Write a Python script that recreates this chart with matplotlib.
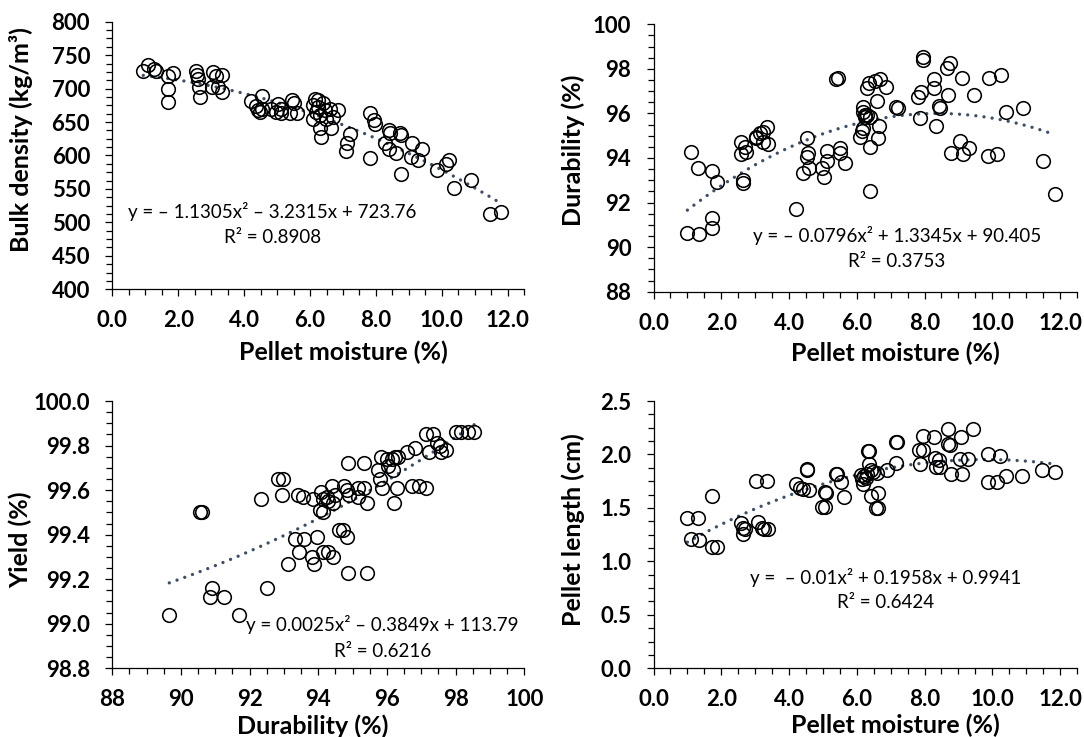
import numpy as np
import matplotlib
matplotlib.use("Agg")
import matplotlib.pyplot as plt
from matplotlib.ticker import MultipleLocator, AutoMinorLocator, FormatStrFormatter

# ---------------- data ----------------
# Panel A: bulk density vs pellet moisture
bd_moisture = [0.94, 1.07, 1.27, 1.34, 1.70, 1.85, 1.68, 1.68, 2.53, 2.56, 2.59, 2.63, 2.66,
               3.06, 3.16, 3.33, 3.03, 3.21, 3.33, 4.22, 4.35, 4.53, 4.42, 4.53, 4.47, 4.83,
               5.03, 4.98, 5.13, 5.13, 5.45, 5.51, 5.38, 5.60, 6.14, 6.24, 6.09, 6.24, 6.39,
               6.17, 6.29, 6.09, 6.44, 6.60, 6.85, 6.49, 6.65, 6.29, 6.34, 6.70, 7.20, 7.12,
               7.10, 7.81, 7.93, 7.96, 7.83, 8.42, 8.41, 8.26, 8.41, 8.62, 8.72, 8.75, 9.10,
               9.07, 9.27, 9.40, 8.75, 9.86, 10.13, 10.23, 10.38, 10.89, 11.47, 11.80]
bulk_density = [726, 736, 730, 726, 719, 724, 700, 680, 727, 720, 714, 702, 687,
                725, 719, 721, 702, 703, 695, 681, 674, 689, 668, 670, 665, 670,
                677, 665, 670, 663, 683, 678, 663, 664, 685, 683, 675, 673, 678,
                665, 660, 655, 668, 670, 668, 654, 641, 641, 628, 658, 632, 619,
                606, 663, 653, 647, 597, 633, 638, 618, 609, 603, 633, 631, 619,
                598, 593, 609, 572, 578, 587, 594, 551, 563, 512, 515]
bd_coef = [-1.1305, -3.2315, 723.76]

# Panel B: durability vs pellet moisture
dur_moisture = [1.00, 1.34, 1.72, 1.72, 1.11, 1.32, 1.72, 1.88, 2.57, 2.57, 2.70, 2.73, 2.63,
                2.65, 3.04, 3.14, 3.24, 3.36, 3.24, 3.39, 3.04, 4.22, 4.40, 4.52, 4.57, 4.52,
                4.60, 4.96, 5.03, 5.11, 5.11, 5.38, 5.45, 5.50, 5.50, 5.65, 6.09, 6.14, 6.17,
                6.19, 6.24, 6.31, 6.39, 6.24, 6.17, 6.31, 6.37, 6.54, 6.69, 6.85, 6.60, 6.66,
                6.63, 6.40, 6.40, 7.15, 7.22, 7.81, 7.91, 7.86, 7.96, 7.96, 8.27, 8.27, 8.43,
                8.47, 8.70, 8.67, 8.75, 8.33, 8.78, 9.04, 9.14, 9.32, 9.12, 9.45, 9.88, 10.15,
                9.90, 10.25, 10.39, 10.91, 11.50, 11.84]
durability = [90.62, 90.58, 91.29, 90.88, 94.29, 93.54, 93.43, 92.94, 94.73, 94.18, 94.51, 94.29, 93.01,
              92.86, 94.88, 95.11, 95.18, 95.38, 94.73, 94.63, 94.96, 91.70, 93.34, 94.88, 94.24, 94.06,
              93.54, 93.54, 93.13, 94.33, 93.88, 97.53, 97.58, 94.44, 94.24, 93.79, 94.93, 95.23, 96.31,
              96.08, 95.93, 95.93, 95.86, 95.86, 95.33, 97.13, 97.35, 97.47, 97.53, 97.17, 96.57, 95.44,
              94.91, 94.48, 92.54, 96.31, 96.23, 96.72, 96.98, 95.78, 98.55, 98.40, 97.53, 97.13, 96.34,
              96.23, 96.83, 98.03, 98.25, 95.44, 94.21, 94.78, 94.18, 94.44, 97.61, 96.83, 94.09, 94.18,
              97.61, 97.73, 96.05, 96.23, 93.87, 92.37]
dur_coef = [-0.0796, 1.3345, 90.405]

# Panel C: yield vs durability
yield_durability = [89.66, 90.55, 90.60, 90.89, 90.84, 91.26, 91.70, 92.33, 92.51, 92.83, 92.96, 92.93,
                    93.11, 93.32, 93.45, 93.42, 93.54, 93.58, 93.81, 93.87, 93.85, 93.97, 94.07, 94.15,
                    94.05, 94.13, 94.24, 94.29, 94.39, 94.49, 94.44, 94.15, 94.29, 94.44, 94.61, 94.73,
                    94.84, 94.76, 94.83, 94.90, 94.87, 95.15, 95.34, 95.17, 95.41, 94.87, 95.41, 95.34,
                    95.75, 95.80, 95.85, 95.83, 95.99, 96.04, 96.14, 96.23, 96.33, 96.17, 96.28, 96.20,
                    96.57, 96.82, 96.72, 96.94, 97.14, 97.14, 97.33, 97.21, 97.45, 97.54, 97.56, 97.71,
                    98.01, 98.17, 98.37, 98.54]
yield_pct = [99.04, 99.50, 99.50, 99.16, 99.12, 99.12, 99.04, 99.56, 99.16, 99.65, 99.65, 99.58,
             99.27, 99.38, 99.32, 99.58, 99.57, 99.38, 99.30, 99.27, 99.56, 99.39, 99.59, 99.56,
             99.51, 99.50, 99.57, 99.55, 99.62, 99.58, 99.54, 99.32, 99.32, 99.30, 99.42, 99.42,
             99.39, 99.62, 99.60, 99.58, 99.72, 99.61, 99.61, 99.57, 99.54, 99.23, 99.23, 99.72,
             99.69, 99.65, 99.61, 99.75, 99.74, 99.71, 99.74, 99.75, 99.75, 99.69, 99.61, 99.54,
             99.77, 99.79, 99.62, 99.62, 99.61, 99.85, 99.85, 99.77, 99.81, 99.80, 99.77, 99.78,
             99.86, 99.86, 99.86, 99.86]

# Panel D: pellet length vs pellet moisture
len_moisture = [1.00, 1.32, 1.11, 1.34, 1.72, 1.72, 1.86, 2.57, 2.65, 2.63, 2.70, 3.04, 3.34,
                3.09, 3.19, 3.26, 3.39, 4.20, 4.32, 4.40, 4.60, 4.52, 4.54, 4.96, 5.06, 5.06,
                5.09, 5.38, 5.42, 5.52, 5.62, 6.11, 6.14, 6.17, 6.21, 6.27, 6.31, 6.34, 6.37,
                6.37, 6.41, 6.49, 6.59, 6.41, 6.58, 6.63, 6.63, 6.88, 7.15, 7.19, 7.15, 7.84,
                7.94, 7.86, 7.96, 8.28, 8.30, 8.33, 8.47, 8.43, 8.70, 8.70, 8.75, 8.77, 9.09,
                9.04, 9.29, 9.12, 9.43, 9.88, 10.24, 9.88, 10.14, 10.40, 10.89, 11.48, 11.84]
pellet_length = [1.41, 1.41, 1.21, 1.20, 1.61, 1.13, 1.13, 1.36, 1.31, 1.26, 1.30, 1.75, 1.75,
                 1.37, 1.31, 1.30, 1.30, 1.72, 1.69, 1.68, 1.67, 1.86, 1.85, 1.51, 1.51, 1.65,
                 1.64, 1.82, 1.82, 1.74, 1.60, 1.81, 1.77, 1.72, 1.80, 1.78, 1.82, 2.03, 2.03,
                 1.91, 1.85, 1.84, 1.83, 1.61, 1.50, 1.50, 1.64, 1.85, 2.12, 2.12, 1.92, 2.04,
                 2.04, 1.91, 2.17, 2.16, 1.97, 1.88, 1.88, 1.95, 2.24, 2.10, 2.09, 1.82, 2.16,
                 1.96, 1.96, 1.82, 2.24, 2.00, 1.99, 1.74, 1.74, 1.80, 1.80, 1.85, 1.84]
len_coef = [-0.01, 0.1958, 0.9941]

# ---------------- style ----------------
plt.rcParams['font.family'] = ['Lato', 'DejaVu Sans']
TREND = '#3D4F66'

fig = plt.figure(figsize=(10.84, 7.37), dpi=100)
W, H = 1084.0, 737.0


def add_axes(l, r, t, b):
    return fig.add_axes([l / W, 1 - b / H, (r - l) / W, (b - t) / H])


def panel(ax, x, y, coef, xlim, ylim, xmaj, ymaj, xfmt, yfmt, xlabel, ylabel,
          eq, r2, eqpos, r2pos, xlab_pos, ylab_pos):
    x = np.asarray(x)
    y = np.asarray(y)
    if coef is None:
        coef = np.polyfit(x, y, 2)
    xs = np.linspace(x.min(), x.max(), 300)
    ax.plot(xs, np.polyval(coef, xs), color=TREND, lw=2.4, ls=(0, (0.01, 2.45)),
            dash_capstyle='round', zorder=2)
    ax.plot(x, y, ls='none', marker='o', ms=9.8, mfc='none', mec='black', mew=1.15, zorder=3)
    ax.set_xlim(*xlim)
    ax.set_ylim(*ylim)
    ax.xaxis.set_major_locator(MultipleLocator(xmaj))
    ax.yaxis.set_major_locator(MultipleLocator(ymaj))
    ax.xaxis.set_minor_locator(AutoMinorLocator(4))
    ax.yaxis.set_minor_locator(AutoMinorLocator(4))
    ax.xaxis.set_major_formatter(FormatStrFormatter(xfmt))
    ax.yaxis.set_major_formatter(FormatStrFormatter(yfmt))
    for s in ('top', 'right'):
        ax.spines[s].set_visible(False)
    for s in ('left', 'bottom'):
        ax.spines[s].set_linewidth(0.9)
    ax.tick_params(which='major', direction='out', length=5, width=0.9, labelsize=16, pad=10)
    ax.tick_params(axis='y', which='major', pad=11)
    ax.tick_params(which='minor', direction='out', length=4, width=0.9)
    for lab in ax.get_xticklabels() + ax.get_yticklabels():
        lab.set_fontweight('bold')
    ax.set_xlabel(xlabel, fontsize=18, fontweight='bold', va='center')
    ax.set_ylabel(ylabel, fontsize=18, fontweight='bold', va='center')
    ax.xaxis.set_label_coords(*xlab_pos)
    ax.yaxis.set_label_coords(*ylab_pos)
    ax.text(eqpos[0], eqpos[1], eq, transform=ax.transAxes, ha='center', va='center', fontsize=13.5)
    ax.text(r2pos[0], r2pos[1], r2, transform=ax.transAxes, ha='center', va='center', fontsize=13.5)


ax1 = add_axes(112.3, 524.3, 21.7, 289.3)
ax2 = add_axes(653.5, 1077.0, 24.3, 291.7)
ax3 = add_axes(112.3, 524.3, 401.0, 668.3)
ax4 = add_axes(653.5, 1077.0, 401.0, 668.3)

panel(ax1, bd_moisture, bulk_density, bd_coef, (0, 12.5), (400, 800), 2, 50, '%.1f', '%d',
      'Pellet moisture (%)', 'Bulk density (kg/m³)',
      'y = – 1.1305x² – 3.2315x + 723.76', 'R² = 0.8908',
      (0.388, 0.289), (0.388, 0.192), (0.56, -0.234), (-0.222, 0.558))

panel(ax2, dur_moisture, durability, dur_coef, (0, 12.5), (88, 100), 2, 2, '%.1f', '%d',
      'Pellet moisture (%)', 'Durability (%)',
      'y = – 0.0796x² + 1.3345x + 90.405', 'R² = 0.3753',
      (0.575, 0.212), (0.575, 0.112), (0.570, -0.232), (-0.190, 0.530))

panel(ax3, yield_durability, yield_pct, None, (88, 100), (98.8, 100.0), 2, 0.2, '%d', '%.1f',
      'Durability (%)', 'Yield (%)',
      'y = 0.0025x² – 0.3849x + 113.79', 'R² = 0.6216',
      (0.656, 0.162), (0.656, 0.062), (0.487, -0.215), (-0.222, 0.480))

panel(ax4, len_moisture, pellet_length, len_coef, (0, 12.5), (0, 2.5), 2, 0.5, '%.1f', '%.1f',
      'Pellet moisture (%)', 'Pellet length (cm)',
      'y =  – 0.01x² + 0.1958x + 0.9941', 'R² = 0.6424',
      (0.548, 0.340), (0.548, 0.247), (0.570, -0.215), (-0.190, 0.517))

fig.savefig('out.png', dpi=100)
